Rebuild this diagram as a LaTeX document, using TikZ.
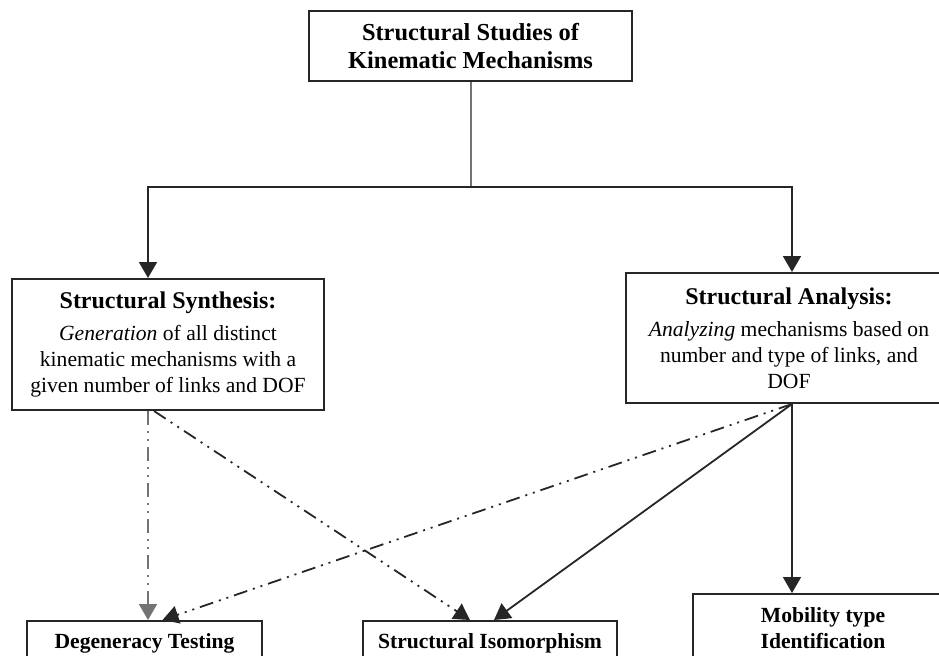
\documentclass[tikz,border=0pt]{standalone}
\usepackage{fontspec}
\setmainfont{Liberation Serif}
\usetikzlibrary{arrows.meta}

\tikzset{
	box/.style={draw=black!85, line width=1pt, align=center, inner sep=2pt,
		font=\fontsize{10.8}{13}\selectfont},
	link/.style={line width=0.9pt, draw=black!85, -{Triangle[length=8pt,width=9pt]}},
	dashdotdot/.style={dash pattern=on 7pt off 3pt on 1pt off 3pt on 1pt off 3pt},
}

\begin{document}
\begin{tikzpicture}[x=0.5pt, y=-0.5pt]
	\useasboundingbox (0,0) rectangle (939,655);
	\clip (0,0) rectangle (939,655);

	\node[box, minimum width=161.5pt, minimum height=35pt] (studies) at (470.5,46)
		{\bfseries\fontsize{12.2}{14}\selectfont Structural Studies of\\[1pt]
		\bfseries\fontsize{12.2}{14}\selectfont Kinematic Mechanisms};

	\node[box, minimum width=156pt, minimum height=65.5pt] (synthesis) at (168,344.5)
		{{\bfseries\fontsize{12}{13}\selectfont Structural Synthesis:}\\[3pt]
		\textit{Generation} of all distinct\\kinematic mechanisms with a\\given number of links and DOF};
	\node[box, minimum width=163pt, minimum height=65pt] (analysis) at (789,338)
		{{\bfseries\fontsize{12}{13}\selectfont Structural Analysis:}\\[3pt]
		\textit{Analyzing} mechanisms based on\\number and type of links, and\\DOF};

	\node[box, minimum width=117.5pt, minimum height=22pt] (degeneracy) at (144.5,643)
		{\bfseries Degeneracy Testing};
	\node[box, minimum width=127pt, minimum height=22pt] (isomorphism) at (490,643)
		{\bfseries Structural Isomorphism};
	\node[box, minimum width=130pt, minimum height=34pt] (mobility) at (823,628)
		{\bfseries Mobility type\\\bfseries Identification};

	\coordinate (split) at (470.5,187);
	\coordinate (lturn) at (148,187);
	\coordinate (rturn) at (792,187);
	\coordinate (sfoot) at (synthesis.south -| lturn);
	\coordinate (afoot) at (analysis.south -| rturn);

	\draw[line width=1pt, black!55] (studies.south) -- (split);
	\draw[link] (split) -- (lturn) -- (lturn |- synthesis.north);
	\draw[link] (split) -- (rturn) -- (rturn |- analysis.north);

	\draw[link, dashdotdot, draw=black!55] (sfoot) -- (degeneracy.north -| sfoot);
	\draw[link, dashdotdot] ([xshift=3]sfoot) -- ([xshift=-10]isomorphism.north);
	\draw[link, dashdotdot] (afoot) -- ([xshift=9]degeneracy.north);
	\draw[link] (afoot) -- ([xshift=2]isomorphism.north);
	\draw[link] (afoot) -- (mobility.north -| afoot);
\end{tikzpicture}
\end{document}
